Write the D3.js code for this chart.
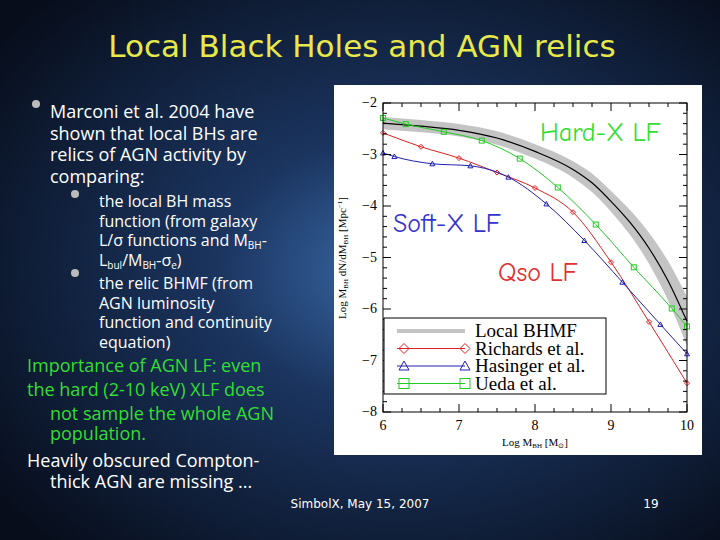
<!DOCTYPE html><html><head><meta charset="utf-8"><script src="https://cdn.jsdelivr.net/npm/d3@7"></script>
<style>body{margin:0;background:#0b1526}svg{display:block}</style></head><body><svg id="s" width="720" height="540"></svg>
<script>
const richX=[6,6.5,7,7.5,8,8.5,9,9.5,10], richY=[-2.58,-2.85,-3.07,-3.35,-3.65,-4.12,-5.09,-6.25,-7.44];
const hasX=[6,6.15,6.65,7.15,7.65,8.15,8.65,9.15,9.65,10], hasY=[-2.97,-3.04,-3.18,-3.22,-3.44,-3.96,-4.67,-5.48,-6.30,-6.87];
const uedaX=[6,6.3,6.8,7.3,7.8,8.3,8.8,9.3,9.8,10], uedaY=[-2.29,-2.41,-2.56,-2.73,-3.08,-3.64,-4.36,-5.19,-5.99,-6.34];
const bhX=[6,6.5,7,7.5,8,8.5,8.75,9,9.25,9.5,9.75,10], bhY=[-2.39,-2.45,-2.53,-2.68,-2.94,-3.29,-3.55,-3.91,-4.32,-4.82,-5.45,-6.24];
const bhErr=[0.12,0.12,0.12,0.13,0.14,0.16,0.18,0.2,0.24,0.3,0.38,0.48];
const xTicks=[6,7,8,9,10], yTicks=[-2,-3,-4,-5,-6,-7,-8];
const svg=d3.select("#s");
const defs=svg.append("defs");
const g1=defs.append("radialGradient").attr("id","bg").attr("cx","0.55").attr("cy","0.5").attr("r","0.7");
g1.append("stop").attr("offset","0").attr("stop-color","#3a6aa8");
g1.append("stop").attr("offset","0.35").attr("stop-color","#1b3560");
g1.append("stop").attr("offset","1").attr("stop-color","#070d1a");
svg.append("rect").attr("width",720).attr("height",540).attr("fill","url(#bg)");
svg.append("text").attr("x",362).attr("y",57).attr("text-anchor","middle").attr("fill","#e8e84a").attr("font-family","DejaVu Sans").attr("font-size",31).text("Local Black Holes and AGN relics");
const F="Open Sans";
function lines(arr,x,y0,dy,size,col){arr.forEach((t,i)=>{svg.append("text").attr("x",x).attr("y",y0+i*dy).attr("fill",col).attr("font-family",F).attr("font-size",size).html(t);});}
lines(["Marconi et al. 2004 have","shown that local BHs are","relics of AGN activity by","comparing:"],50,118,21.5,18,"#fff");
lines(["the local BH mass","function (from galaxy","L/σ functions  and M<tspan font-size='10' dy='3'>BH</tspan><tspan dy='-3'>-</tspan>","L<tspan font-size='10' dy='3'>bul</tspan><tspan dy='-3'>/M</tspan><tspan font-size='10' dy='3'>BH</tspan><tspan dy='-3'>-σ</tspan><tspan font-size='10' dy='3'>e</tspan><tspan dy='-3'>)</tspan>"],99,207,19.5,16,"#fff");
lines(["the relic BHMF (from","AGN luminosity","function and continuity","equation)"],99,289,19.5,16,"#fff");
lines(["Importance of AGN LF: even","the hard (2-10 keV) XLF does"],27,372,24,18,"#33dd33");
lines(["not sample the whole AGN","population."],50,420,20,18,"#33dd33");
lines(["Heavily obscured Compton-"],27,467,20,18,"#fff");
lines(["thick AGN are missing ..."],50,488,20,18,"#fff");
[[36,104],[75,194],[75,273]].forEach(([x,y])=>svg.append("circle").attr("cx",x).attr("cy",y).attr("r",4).attr("fill","#bbb"));
svg.append("text").attr("x",360).attr("y",508).attr("text-anchor","middle").attr("fill","#fff").attr("font-family","DejaVu Sans").attr("font-size",12).text("SimbolX, May 15, 2007");
svg.append("text").attr("x",651).attr("y",508).attr("text-anchor","middle").attr("fill","#fff").attr("font-family","DejaVu Sans").attr("font-size",12).text("19");
svg.append("rect").attr("x",334).attr("y",85).attr("width",368).attr("height",370).attr("fill","#fff");
const x=d3.scaleLinear().domain([6,10]).range([383,687]);
const y=d3.scaleLinear().domain([-2,-8]).range([103,412]);
const c=svg.append("g");
c.append("clipPath").attr("id","cp").append("rect").attr("x",383).attr("y",103).attr("width",304).attr("height",309);
const band=d3.area().x((d,i)=>x(bhX[i])).y0((d,i)=>y(bhY[i]-bhErr[i])).y1((d,i)=>y(bhY[i]+bhErr[i])).curve(d3.curveMonotoneX);
c.append("path").attr("clip-path","url(#cp)").datum(bhY).attr("d",band).attr("fill","#c4c4c4");
const ln=(xs)=>d3.line().x((d,i)=>x(xs[i])).y(d=>y(d)).curve(d3.curveMonotoneX);
c.append("path").datum(bhY).attr("d",ln(bhX)).attr("fill","none").attr("stroke","#000").attr("stroke-width",1.2);
const series=[[uedaX,uedaY,"#22cc22","sq"],[richX,richY,"#e02020","di"],[hasX,hasY,"#2020b0","tri"]];
function mark(gg,px,py,t,col,s){
 if(t=="sq")gg.append("rect").attr("x",px-s).attr("y",py-s).attr("width",2*s).attr("height",2*s);
 else if(t=="di")gg.append("path").attr("d",`M${px-s},${py}L${px},${py-s}L${px+s},${py}L${px},${py+s}Z`);
 else gg.append("path").attr("d",`M${px-s},${py+s*0.8}L${px},${py-s}L${px+s},${py+s*0.8}Z`);
 gg.selectAll("*").attr("fill","none").attr("stroke",col).attr("stroke-width",1);
}
series.forEach(([xs,ys,col,t])=>{
 c.append("path").datum(ys).attr("d",ln(xs)).attr("fill","none").attr("stroke",col).attr("stroke-width",1);
 ys.forEach((v,i)=>mark(c.append("g"),x(xs[i]),y(v),t,col,2.5));
});
c.append("rect").attr("x",383).attr("y",103).attr("width",304).attr("height",309).attr("fill","none").attr("stroke","#000");
const ax=c.append("g").attr("font-family","Liberation Serif").attr("font-size",14);
d3.range(6,10.01,0.25).forEach(v=>{const L=(Math.abs(v-Math.round(v))<1e-6)?8:4;
 ax.append("line").attr("x1",x(v)).attr("x2",x(v)).attr("y1",412).attr("y2",412-L).attr("stroke","#000");
 ax.append("line").attr("x1",x(v)).attr("x2",x(v)).attr("y1",103).attr("y2",103+L).attr("stroke","#000");});
d3.range(-8,-1.99,0.2).forEach(v=>{const L=(Math.abs(v-Math.round(v))<1e-6)?8:4;
 ax.append("line").attr("x1",383).attr("x2",383+L).attr("y1",y(v)).attr("y2",y(v)).attr("stroke","#000");
 ax.append("line").attr("x1",687).attr("x2",687-L).attr("y1",y(v)).attr("y2",y(v)).attr("stroke","#000");});
xTicks.forEach(v=>ax.append("text").attr("x",x(v)).attr("y",430).attr("text-anchor","middle").text(v));
yTicks.forEach(v=>ax.append("text").attr("x",377).attr("y",y(v)+4).attr("text-anchor","end").text("−"+Math.abs(v)));
ax.append("text").attr("x",535).attr("y",446).attr("text-anchor","middle").attr("font-size",11).html("Log M<tspan font-size='7' dy='2'>BH</tspan><tspan dy='-2'> [M</tspan><tspan font-size='7' dy='2'>⊙</tspan><tspan dy='-2'>]</tspan>");
ax.append("text").attr("transform","translate(346,258) rotate(-90)").attr("text-anchor","middle").attr("font-size",11).html("Log M<tspan font-size='7' dy='2'>BH</tspan><tspan dy='-2'> dN/dM</tspan><tspan font-size='7' dy='2'>BH</tspan><tspan dy='-2'> [Mpc</tspan><tspan font-size='7' dy='-4'>−1</tspan><tspan dy='4'>]</tspan>");
const lg=c.append("g");
lg.append("rect").attr("x",384).attr("y",318).attr("width",222).attr("height",76).attr("fill","#fff").attr("stroke","#000");
const names=["Local BHMF","Richards et al.","Hasinger et al.","Ueda et al."], cols=["#c4c4c4","#e02020","#2020b0","#22cc22"], mt=[null,"di","tri","sq"];
names.forEach((n,i)=>{const yy=331+i*17.5;
 lg.append("line").attr("x1",397).attr("x2",465).attr("y1",yy).attr("y2",yy).attr("stroke",cols[i]).attr("stroke-width",i==0?4:1);
 if(mt[i]){mark(lg.append("g"),404,yy,mt[i],cols[i],5);mark(lg.append("g"),465,yy,mt[i],cols[i],5);}
 lg.append("text").attr("x",475).attr("y",yy+6).attr("font-family","Liberation Serif").attr("font-size",19).text(n);});
const CF="Comic Neue, DejaVu Sans";
c.append("text").attr("x",540).attr("y",141).attr("fill","#33dd33").attr("font-family",CF).attr("font-size",26).text("Hard-X LF");
c.append("text").attr("x",393).attr("y",232).attr("fill","#3333cc").attr("font-family",CF).attr("font-size",26).text("Soft-X LF");
c.append("text").attr("x",498).attr("y",281).attr("fill","#e03030").attr("font-family",CF).attr("font-size",26).text("Qso LF");
</script></body></html>
